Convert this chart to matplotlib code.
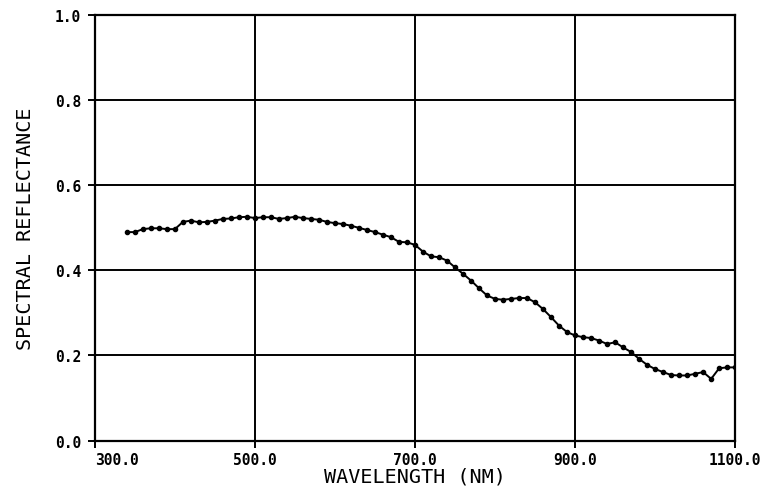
import matplotlib.pyplot as plt
import numpy as np

# spectral reflectance, one sample every 10 nm
wavelength = np.arange(340, 1101, 10)
reflectance = [
    0.490, 0.490, 0.497, 0.499, 0.499, 0.497, 0.497, 0.514, 0.517, 0.513,
    0.514, 0.517, 0.521, 0.522, 0.525, 0.526, 0.523, 0.525, 0.525, 0.521,
    0.523, 0.526, 0.523, 0.521, 0.519, 0.514, 0.511, 0.509, 0.505, 0.500,
    0.495, 0.490, 0.484, 0.478, 0.467, 0.466, 0.460, 0.444, 0.433, 0.431,
    0.423, 0.407, 0.392, 0.376, 0.358, 0.341, 0.333, 0.331, 0.333, 0.335,
    0.335, 0.325, 0.309, 0.290, 0.270, 0.255, 0.247, 0.243, 0.241, 0.235,
    0.227, 0.231, 0.219, 0.208, 0.192, 0.178, 0.168, 0.161, 0.154, 0.153,
    0.153, 0.157, 0.161, 0.145, 0.170, 0.172, 0.172,
]

xticks = [300, 500, 700, 900, 1100]
xticklabels = ['300.0', '500.0', '700.0', '900.0', '1100.0']
yticks = [0.0, 0.2, 0.4, 0.6, 0.8, 1.0]
yticklabels = ['0.0', '0.2', '0.4', '0.6', '0.8', '1.0']

font = 'DejaVu Sans Mono'

fig = plt.figure(figsize=(7.65, 4.89), dpi=100)
ax = fig.add_axes([0.124, 0.097, 0.837, 0.870])

ax.plot(wavelength, reflectance, color='black', lw=1.4,
        marker='o', markersize=3, zorder=3)

ax.set_xlim(300, 1100)
ax.set_ylim(0, 1)
ax.set_xticks(xticks)
ax.set_xticklabels(xticklabels, fontfamily=font, fontsize=10.5, fontweight='bold')
ax.set_yticks(yticks)
ax.set_yticklabels(yticklabels, fontfamily=font, fontsize=10.5, fontweight='bold')
ax.get_xticklabels()[0].set_horizontalalignment('left')

ax.tick_params(axis='y', direction='out', length=5, width=1.4, colors='black', pad=5)
ax.tick_params(axis='x', direction='out', length=5, width=1.4, colors='black', pad=3)
ax.grid(True, color='black', lw=1.4)
for s in ax.spines.values():
    s.set_linewidth(1.6)

ax.set_xlabel('WAVELENGTH (NM)', fontfamily=font, fontsize=14.5, labelpad=0)
ax.set_ylabel('SPECTRAL REFLECTANCE', fontfamily=font, fontsize=14.5, labelpad=14)

plt.savefig('out.png', dpi=100)
